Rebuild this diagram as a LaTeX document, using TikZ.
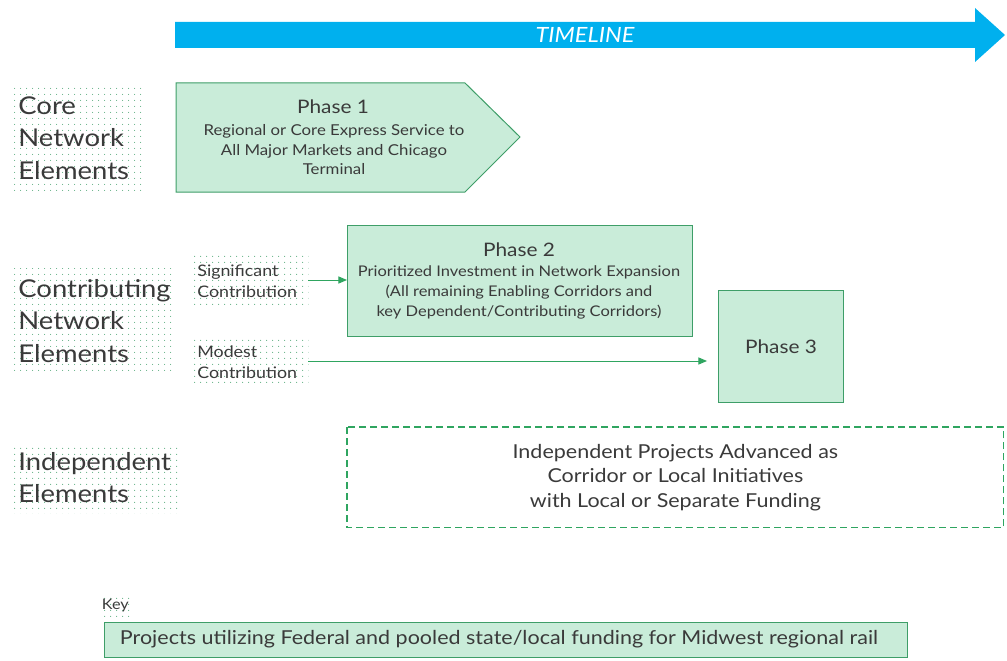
\documentclass[tikz,border=0pt]{standalone}
\usepackage{fontspec}
\setmainfont[FakeStretch=1.12]{Lato}
\usepackage{tikz}
\usetikzlibrary{arrows,patterns.meta}

\definecolor{phasefill}{HTML}{C9ECD9}
\definecolor{phaseline}{HTML}{3E9E68}
\definecolor{dashgreen}{HTML}{2FA560}
\definecolor{timeblue}{HTML}{00B0EE}
\definecolor{textgray}{HTML}{3A3A3A}

\tikzdeclarepattern{
  name=sparse dots, type=uncolored,
  bottom left={(0pt,0pt)}, top right={(6pt,6pt)}, tile size={(6pt,6pt)},
  code={\fill (3pt,3pt) circle (0.65pt);}
}

\begin{document}
\begin{tikzpicture}[x=1pt,y=-1pt,>=triangle 45,thick,text=textgray,
  phase box/.style={draw=phaseline,fill=phasefill,line width=1pt,inner sep=0pt},
  dot area/.style={pattern=sparse dots,pattern color=phaseline!80,anchor=north west,inner sep=0pt},
  row label/.style={anchor=north west,align=left,inner sep=0pt,font=\fontsize{24.5}{32.5}\selectfont},
  side label/.style={anchor=north west,align=left,inner sep=0pt,font=\fontsize{15.9}{21}\selectfont},
  phase title/.style={font=\fontsize{18.6}{22}\selectfont},
  phase text/.style={align=center},
  link/.style={->,draw=dashgreen,line width=1pt}]
  \useasboundingbox (0,0) rectangle (1007,661);

  % timeline
  \fill[timeblue] (175,22) -- (975,22) -- (975,8) -- (1005,35) -- (975,62) -- (975,48) -- (175,48) -- cycle;
  \node[text=white,font=\fontsize{21}{21}\selectfont\itshape] (timeline) at (585,35) {TIMELINE};

  % row labels
  \node[dot area,minimum width=132pt,minimum height=107pt] (core) at (10,83) {};
  \node[row label] (corelbl) at (18,96) {Core\\Network\\Elements};
  \node[dot area,minimum width=162pt,minimum height=104pt] (contrib) at (10,268) {};
  \node[row label] (contriblbl) at (18,279) {Contributing\\Network\\Elements};
  \node[dot area,minimum width=168pt,minimum height=70pt] (indep) at (10,443) {};
  \node[row label] (indeplbl) at (18,452) {Independent\\Elements};

  % phase 1
  \filldraw[phase box] (176,83) -- (465,83) -- (520,137) -- (465,192) -- (176,192) -- cycle;
  \node[phase title] (p1) at (333,107) {Phase 1};
  \node[phase text,font=\fontsize{15}{19.5}\selectfont] (p1txt) at (334,150) {Regional or Core Express Service to\\All Major Markets and Chicago\\Terminal};

  % phase 2 and 3
  \node[phase box,minimum width=345pt,minimum height=111pt,anchor=north west] (p2box) at (347,225) {};
  \node[phase title] (p2) at (519,250) {Phase 2};
  \node[phase text,font=\fontsize{14.7}{20}\selectfont] (p2txt) at (519,292) {Prioritized Investment in Network Expansion\\(All remaining Enabling Corridors and\\key Dependent/Contributing Corridors)};
  \node[phase box,minimum width=125pt,minimum height=112pt,anchor=north west] (p3box) at (718,290) {};
  \node[phase title] (p3) at (p3box.center) {Phase 3};

  % contributions
  \node[dot area,minimum width=118pt,minimum height=52pt] (sig) at (190,253) {};
  \node[side label] (siglbl) at (197,264) {Significant\\Contribution};
  \node[dot area,minimum width=118pt,minimum height=46pt] (mod) at (190,337) {};
  \node[side label] (modlbl) at (197,345) {Modest\\Contribution};
  \coordinate (sigend) at (308,280);
  \coordinate (modend) at (308,361);
  \coordinate (p3in) at (707,361);
  \draw[link] (sigend) -- (p2box.west |- sigend);
  \draw[link] (modend) -- (p3in);

  % independent projects
  \node[minimum width=656pt,minimum height=100pt,anchor=north west,inner sep=0pt] (indbox) at (347,427) {};
  \draw[dashgreen,dash pattern=on 7pt off 4pt,line width=1.2pt] (indbox.north west) rectangle (indbox.south east);
  \node[align=center,font=\fontsize{19.2}{24.5}\selectfont] (ind) at (indbox.center) {Independent Projects Advanced as\\Corridor or Local Initiatives\\with Local or Separate Funding};

  % key
  \node[dot area,minimum width=30pt,minimum height=25pt] (keydots) at (100,593) {};
  \node[font=\fontsize{14.5}{15}\selectfont] (key) at (keydots.center) {Key};
  \node[phase box,minimum width=803pt,minimum height=35pt,anchor=north west] (keybox) at (104,622) {};
  \node[font=\fontsize{19.2}{19}\selectfont] (keytxt) at (499,639) {Projects utilizing Federal and pooled state/local funding for Midwest regional rail};
\end{tikzpicture}
\end{document}
